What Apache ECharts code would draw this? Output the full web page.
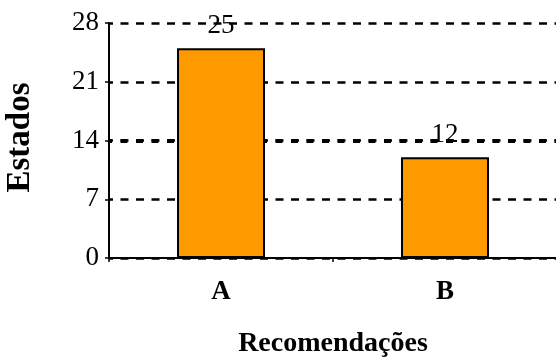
<!DOCTYPE html>
<html><head><meta charset="utf-8">
<script src="https://cdn.jsdelivr.net/npm/echarts@6/dist/echarts.min.js"></script>
<style>html,body{margin:0;padding:0;background:#fff}#c{width:556px;height:358px}</style>
</head><body><div id="c"></div>
<script>
const categories = ['A', 'B'];
const values = [25, 12];
const yTicks = [0, 7, 14, 21, 28];
const F = '"Liberation Serif", "Times New Roman", serif';
const chart = echarts.init(document.getElementById('c'), null, {renderer: 'canvas'});
chart.setOption({
  animation: false,
  grid: {left: 109, right: -1, top: 23, bottom: 100, outerBoundsMode: 'none', containLabel: false},
  xAxis: {
    type: 'category', data: categories,
    name: 'Recomendações', nameLocation: 'middle', nameGap: 72,
    nameTextStyle: {fontFamily: F, fontSize: 28, fontWeight: 'bold', color: '#000'},
    axisLine: {lineStyle: {color: '#000', width: 2}},
    axisTick: {show: true, length: 4, lineStyle: {color: '#000', width: 1.5}},
    axisLabel: {fontFamily: F, fontSize: 27, fontWeight: 'bold', color: '#000', margin: 21}
  },
  yAxis: {
    type: 'value', min: yTicks[0], max: yTicks[yTicks.length - 1], interval: 7,
    name: 'Estados', nameLocation: 'middle', nameGap: 72,
    nameTextStyle: {fontFamily: F, fontSize: 33, fontWeight: 'bold', color: '#000', padding: [0, 0, 0, 6]},
    axisLine: {show: true, lineStyle: {color: '#000', width: 2}},
    axisTick: {show: true, length: 4, lineStyle: {color: '#000', width: 1.5}},
    axisLabel: {fontFamily: F, fontSize: 27, color: '#000', margin: 10},
    splitLine: {show: true, lineStyle: {color: '#000', type: [8, 7.5], width: 2.5, dashOffset: 4}}
  },
  series: [{
    type: 'bar', data: values, barWidth: 88,
    itemStyle: {color: '#FF9900', borderColor: '#000', borderWidth: 2},
    label: {show: true, position: 'top', distance: 9, fontFamily: F, fontSize: 27, color: '#000'},
    markLine: {
      z: 1, silent: true, symbol: 'none', label: {show: false},
      lineStyle: {color: '#000', type: [7, 8.5], width: 4, dashOffset: 4},
      data: [{yAxis: yTicks[2]}]
    }
  }]
});
</script></body></html>
